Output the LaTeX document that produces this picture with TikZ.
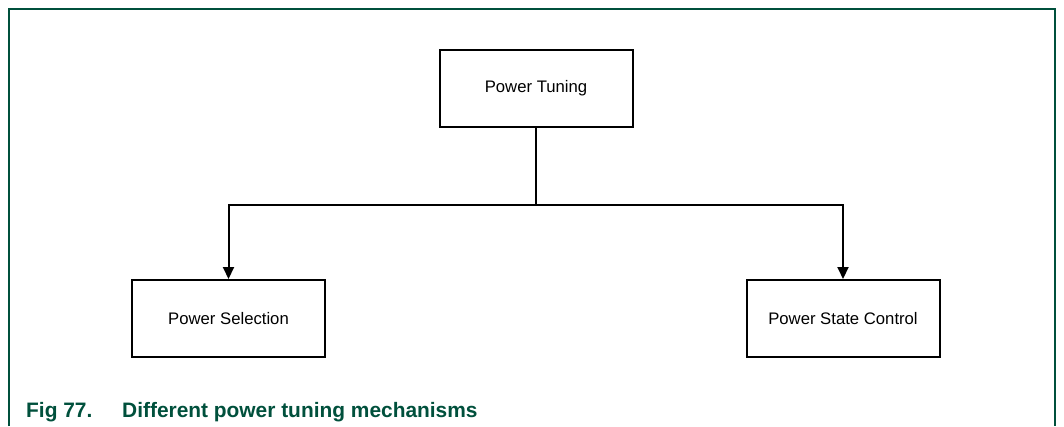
\documentclass[tikz,border=0pt]{standalone}
\usepackage{fontspec}
\setmainfont{Liberation Sans}
\usetikzlibrary{arrows.meta}
\definecolor{nxpgreen}{HTML}{00503C}
\begin{document}
\begin{tikzpicture}[x=1pt,y=-1pt,
  box/.style={draw=black,line width=2pt,minimum width=193pt,minimum height=77pt,inner sep=0pt,font=\fontsize{16.7}{20}\selectfont},
  conn/.style={line width=2pt,black},
  arr/.style={conn,-{Triangle[width=11pt,length=12pt]}},
  frame/.style={draw=nxpgreen,line width=2pt},
  caption/.style={anchor=base west,inner sep=0pt,text=nxpgreen,font=\fontsize{20.9}{24}\selectfont\bfseries}]
\useasboundingbox (0,0) rectangle (1064,426);
\draw[frame] (9,426) -- (9,9) -- (1055,9) -- (1055,426);
\node[box] (pt) at (536,88.5) {Power Tuning};
\node[box] (ps) at (228.5,318.5) {Power Selection};
\node[box] (psc) at (843,318.5) {Power State Control};
\coordinate (j) at (536,205);
\draw[conn] (pt.south) -- (j);
\draw[arr] (j) -| (ps.north);
\draw[arr] (j) -| (psc.north);
\node[caption] (fig) at (26,417) {Fig 77.};
\node[caption] (cap) at (122,417) {Different power tuning mechanisms};
\end{tikzpicture}
\end{document}
